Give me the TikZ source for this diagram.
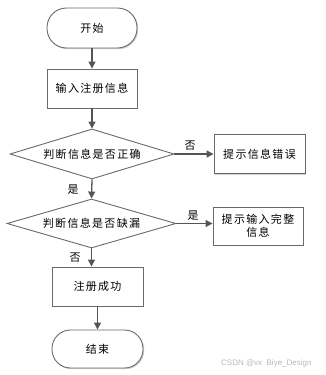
\documentclass[tikz,border=0pt]{standalone}
\usepackage{fontspec}
\setmainfont{Liberation Sans}
\newfontfamily\cjk[LetterSpace=12]{Noto Sans CJK SC}
\usetikzlibrary{shapes.geometric,shadows,arrows.meta}
\definecolor{linec}{HTML}{555555}
\definecolor{borderc}{HTML}{6A6A6A}
\tikzset{
  base/.style={draw=borderc, line width=0.9pt, fill=white, font=\cjk\fontsize{11}{13}\selectfont, align=center,
    drop shadow={shadow xshift=1.2pt, shadow yshift=-1.2pt, fill=black!18, opacity=1}},
  term/.style={base, rectangle, rounded corners=19.5pt, minimum width=90pt, minimum height=40pt, inner sep=0pt},
  proc/.style={base, rectangle, minimum width=90pt, minimum height=39pt, inner sep=0pt},
  dec/.style={draw=borderc, line width=0.9pt, fill=white, font=\cjk\fontsize{11}{13}\selectfont, diamond, aspect=3.3, inner sep=0pt},
  arr/.style={draw=linec, line width=1.3pt, -{Triangle[length=7pt,width=7pt]}},
  lbl/.style={font=\cjk\fontsize{11}{13}\selectfont, inner sep=0pt},
  wm/.style={font=\fontsize{8}{9}\selectfont, text=black!28, inner sep=0pt, anchor=west}
}
\begin{document}
\begin{tikzpicture}[x=1pt,y=1pt]
\useasboundingbox (0,0) rectangle (326,-375);
\node[term] (start) at (92,-28) {开始};
\node[proc] (in) at (92,-88.5) {输入注册信息};
\node[dec, minimum width=164pt, minimum height=50pt] (d1) at (92,-154) {判断信息是否正确};
\node[proc, minimum width=91pt] (err) at (259.5,-154) {提示信息错误};
\node[dec, minimum width=169pt, minimum height=49pt] (d2) at (91.5,-223.5) {判断信息是否缺漏};
\node[proc, minimum height=38pt] (fill) at (258,-226) {提示输入完整\\信息};
\node[proc, minimum width=91pt] (ok) at (97.5,-286.5) {注册成功};
\node[term, minimum width=91pt, minimum height=38pt, rounded corners=18.5pt] (end) at (97.5,-349) {结束};
\draw[arr] (start) -- (in);
\draw[arr] (in) -- (d1);
\draw[arr] (d1.east) -- (err.west |- d1.east);
\draw[arr] (d1.south) -- (d2.north);
\draw[arr] (d2.east) -- (fill.west |- d2.east);
\draw[arr] (d2.south) -- (d2.south |- ok.north);
\draw[arr] (ok.south -| end.north) -- (end.north);
\node[lbl] (l1) at (190,-146) {否};
\node[lbl] (l2) at (73,-190) {是};
\node[lbl] (l3) at (193,-216) {是};
\node[lbl] (l4) at (75,-258) {否};
\begin{scope}
\clip (0,0) rectangle (326,-375);
\node[wm] (wmk) at (221,-363) {CSDN @vx\ \ Biye\_Design};
\end{scope}
\end{tikzpicture}
\end{document}
